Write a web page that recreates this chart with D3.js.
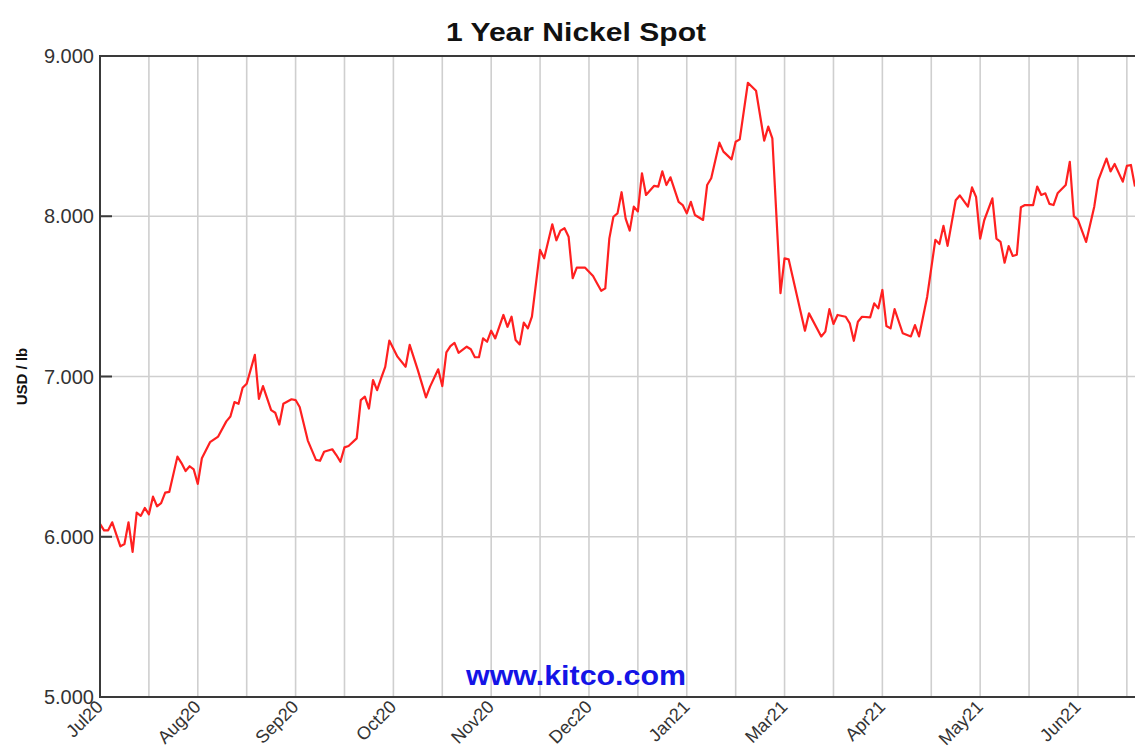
<!DOCTYPE html>
<html>
<head>
<meta charset="utf-8">
<script src="https://cdn.jsdelivr.net/npm/d3@7"></script>
<style>
    body { margin: 0; background: #fff; }
    text { font-family: "Liberation Sans", Arial, sans-serif; }
</style>
</head>
<body>
<div id="chart"></div>
<script>
// x labels, one every 24 trading days
const tickLabels = ["Jul20", "Aug20", "Sep20", "Oct20", "Nov20", "Dec20", "Jan21", "Mar21", "Apr21", "May21", "Jun21"]
const yTicks = [5, 6, 7, 8, 9]

// trading day index and nickel price (USD / lb)
const days = [0, 1, 2, 3, 5, 6, 7, 8, 9, 10, 11, 12, 13, 14, 15, 16, 17, 19, 20, 21, 22, 23, 24, 25, 27, 29, 31, 32, 33, 34, 35, 36, 38, 39, 40, 42,
    43, 44, 45, 47, 48, 49, 51, 53, 54, 55, 57, 58, 59, 60, 61, 63, 64, 65, 66, 67, 68, 69, 70, 71, 73, 75, 76, 78, 80, 81, 83, 84,
    85, 86, 87, 88, 90, 91, 92, 93, 94, 95, 96, 97, 99, 100, 101, 102, 103, 104, 105, 106, 108, 109, 111, 112, 113, 114, 115, 116, 117, 119, 121, 122, 123, 124,
    125, 126, 127, 128, 129, 130, 131, 132, 133, 134, 136, 137, 138, 139, 140, 142, 143, 144, 145, 146, 148, 149, 150, 152, 153, 155, 156, 157, 159, 161, 163, 164, 165,
    167, 168, 169, 173, 174, 177, 178, 179, 180, 181, 183, 184, 185, 186, 187, 189, 190, 191, 192, 193, 194, 195, 197, 199, 200, 201, 203,
    205, 206, 207, 208, 210, 211, 213, 214, 215, 216, 217, 219, 220, 221, 222, 223, 224, 225, 226, 227, 229, 230, 231, 232, 233, 234, 235,
    237, 238, 239, 240, 242, 244, 245, 247, 248, 249, 251, 252, 253, 254]
const prices = [6.08, 6.04, 6.04, 6.09, 5.94, 5.955, 6.09, 5.905, 6.15, 6.13, 6.18, 6.14, 6.25, 6.19, 6.21, 6.275, 6.28, 6.50, 6.46, 6.41, 6.44, 6.42, 6.33, 6.49, 6.59, 6.625, 6.72, 6.75, 6.84, 6.83, 6.93, 6.955, 7.135, 6.86, 6.94, 6.79,
    6.774, 6.70, 6.83, 6.858, 6.853, 6.81, 6.60, 6.48, 6.474, 6.53, 6.546, 6.51, 6.468, 6.558, 6.566, 6.614, 6.853, 6.874, 6.80, 6.978, 6.915, 6.99, 7.06, 7.224, 7.124, 7.061, 7.197, 7.04, 6.87, 6.937, 7.045, 6.94,
    7.15, 7.19, 7.21, 7.148, 7.186, 7.17, 7.12, 7.12, 7.238, 7.217, 7.286, 7.238, 7.384, 7.31, 7.373, 7.228, 7.20, 7.336, 7.30, 7.373, 7.79, 7.738, 7.95, 7.85, 7.91, 7.925, 7.872, 7.613, 7.68, 7.68, 7.627, 7.58, 7.535, 7.55,
    7.862, 7.997, 8.018, 8.15, 7.985, 7.91, 8.06, 8.03, 8.268, 8.133, 8.19, 8.185, 8.28, 8.195, 8.243, 8.09, 8.07, 8.018, 8.09, 8.008, 7.977, 8.195, 8.237, 8.459, 8.403, 8.355, 8.465, 8.48, 8.833, 8.783, 8.472, 8.559, 8.486,
    7.52, 7.738, 7.731, 7.286, 7.394, 7.25, 7.28, 7.42, 7.328, 7.384, 7.373, 7.332, 7.223, 7.342, 7.373, 7.369, 7.456, 7.425, 7.54, 7.315, 7.30, 7.42, 7.27, 7.25, 7.321, 7.25, 7.498,
    7.853, 7.827, 7.94, 7.815, 8.10, 8.13, 8.06, 8.18, 8.12, 7.86, 7.975, 8.112, 7.86, 7.84, 7.71, 7.814, 7.752, 7.76, 8.056, 8.07, 8.07, 8.185, 8.133, 8.143, 8.077, 8.07, 8.143,
    8.195, 8.34, 8.0, 7.977, 7.84, 8.06, 8.226, 8.36, 8.28, 8.326, 8.216, 8.314, 8.32, 8.185]

const width = 1135
const height = 755
const margin = { top: 56, right: 0, bottom: 58, left: 100 }

const data = days.map((d, i) => ({ day: d, price: prices[i] }))

const x = d3.scaleLinear()
    .domain([0, 254])
    .range([margin.left, width - margin.right])

const y = d3.scaleLinear()
    .domain([5, 9])
    .range([height - margin.bottom, margin.top])

const svg = d3.select("#chart").append("svg")
    .attr("width", width)
    .attr("height", height)

// vertical grid every 12 trading days
const gridDays = d3.range(12, 254, 12)
svg.append("g")
    .attr("stroke", "#cfcfcf")
    .attr("stroke-width", 1.6)
    .selectAll("line")
    .data(gridDays)
    .join("line")
    .attr("x1", d => x(d))
    .attr("x2", d => x(d))
    .attr("y1", y(9))
    .attr("y2", y(5))

// horizontal grid
svg.append("g")
    .attr("stroke", "#cfcfcf")
    .attr("stroke-width", 1.6)
    .selectAll("line")
    .data(yTicks.slice(1, -1))
    .join("line")
    .attr("x1", x(0))
    .attr("x2", width)
    .attr("y1", d => y(d))
    .attr("y2", d => y(d))

// price line
const line = d3.line()
    .x(d => x(d.day))
    .y(d => y(d.price))

svg.append("path")
    .datum(data)
    .attr("fill", "none")
    .attr("stroke", "#ff2020")
    .attr("stroke-width", 2.2)
    .attr("stroke-linejoin", "round")
    .attr("d", line)

// frame
svg.append("path")
    .attr("fill", "none")
    .attr("stroke", "#3a3a3a")
    .attr("stroke-width", 2)
    .attr("d", `M${width + 5},${y(9)}H${x(0)}V${y(5)}H${width + 5}`)

// y axis ticks and labels
const yAxis = svg.append("g")
yAxis.selectAll("line")
    .data(yTicks)
    .join("line")
    .attr("x1", x(0))
    .attr("x2", x(0) + 12)
    .attr("y1", d => y(d))
    .attr("y2", d => y(d))
    .attr("stroke", "#3a3a3a")
    .attr("stroke-width", 2)

yAxis.selectAll("text")
    .data(yTicks)
    .join("text")
    .attr("x", x(0) - 6)
    .attr("y", d => y(d) + 7)
    .attr("text-anchor", "end")
    .attr("font-size", 20)
    .attr("fill", "#333")
    .text(d3.format(".3f"))

// x labels, rotated
svg.append("g")
    .selectAll("text")
    .data(tickLabels)
    .join("text")
    .attr("transform", (d, i) => `translate(${x(i * 24) + 4},${y(5) + 11}) rotate(-45)`)
    .attr("text-anchor", "end")
    .attr("font-size", 18)
    .attr("fill", "#333")
    .text(d => d)

// title
svg.append("text")
    .attr("x", 576)
    .attr("y", 41)
    .attr("text-anchor", "middle")
    .attr("font-size", 25)
    .attr("font-weight", "bold")
    .attr("fill", "#111")
    .attr("textLength", 260)
    .attr("lengthAdjust", "spacingAndGlyphs")
    .text("1 Year Nickel Spot")

// y label
svg.append("text")
    .attr("transform", `translate(27,${(y(5) + y(9)) / 2}) rotate(-90)`)
    .attr("text-anchor", "middle")
    .attr("font-size", 15)
    .attr("font-weight", "bold")
    .attr("fill", "#111")
    .text("USD / lb")

// watermark
svg.append("text")
    .attr("x", 576)
    .attr("y", 685)
    .attr("text-anchor", "middle")
    .attr("font-size", 27)
    .attr("font-weight", "bold")
    .attr("fill", "#1414e6")
    .attr("textLength", 220)
    .attr("lengthAdjust", "spacingAndGlyphs")
    .text("www.kitco.com")
</script>
</body>
</html>
